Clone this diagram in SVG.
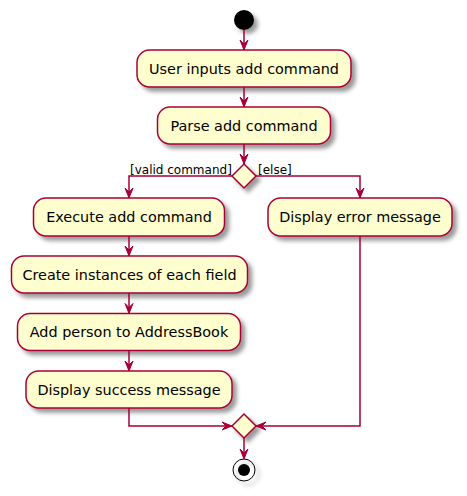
<svg xmlns="http://www.w3.org/2000/svg" width="467" height="496" viewBox="0 0 467 496">
<defs>
<filter id="sh" x="-1" y="-1" width="300%" height="300%">
<feGaussianBlur in="SourceAlpha" stdDeviation="2" result="b"/>
<feColorMatrix in="b" type="matrix" values="0 0 0 0 0 0 0 0 0 0 0 0 0 0 0 0 0 0 .4 0" result="b2"/>
<feOffset in="b2" dx="4" dy="4" result="b3"/>
<feBlend in="SourceGraphic" in2="b3" mode="normal"/>
</filter>
</defs>
<style>
.act{fill:#FEFECE;stroke:#A80036;stroke-width:1.5;filter:url(#sh)}
.t{font-family:"DejaVu Sans",sans-serif;font-size:14.4px;fill:#000;text-anchor:middle}
.l{font-family:"DejaVu Sans",sans-serif;font-size:12px;fill:#000}
.ln{fill:none;stroke:#A80036;stroke-width:1.5}
.ah{fill:#A80036;stroke:#A80036;stroke-width:1}
</style>
<rect width="467" height="496" fill="#FFFFFF"/>
<g id="start"><circle cx="244" cy="20" r="10" fill="#000" filter="url(#sh)"/></g>
<g id="n1"><rect class="act" x="137" y="50" width="214" height="37" rx="12.5"/><text class="t" x="244" y="73.5">User inputs add command</text></g>
<g id="n2"><rect class="act" x="157.5" y="107" width="173" height="37" rx="12.5"/><text class="t" x="244" y="130.5">Parse add command</text></g>
<g id="d1"><polygon class="act" points="244,164 256,176 244,188 232,176"/></g>
<g id="n3"><rect class="act" x="33.5" y="198" width="191" height="38" rx="12.5"/><text class="t" x="129" y="222">Execute add command</text></g>
<g id="n4"><rect class="act" x="268" y="198" width="184" height="38" rx="12.5"/><text class="t" x="360" y="222">Display error message</text></g>
<g id="n5"><rect class="act" x="11.5" y="256" width="236" height="37" rx="12.5"/><text class="t" x="129.5" y="279.5">Create instances of each field</text></g>
<g id="n6"><rect class="act" x="17.5" y="313.5" width="223" height="37" rx="12.5"/><text class="t" x="129" y="337">Add person to AddressBook</text></g>
<g id="n7"><rect class="act" x="26" y="371" width="206" height="37" rx="12.5"/><text class="t" x="129" y="394.5">Display success message</text></g>
<g id="d2"><polygon class="act" points="244,414 256,426 244,438 232,426"/></g>
<g id="end"><circle cx="244" cy="470" r="11" fill="none" stroke="#000" stroke-width="1" filter="url(#sh)"/><circle cx="244" cy="470" r="6" fill="#000"/></g>
<g id="connectors">
<line class="ln" x1="244" y1="30" x2="244" y2="50"/><polygon class="ah" points="240,40 244,50 248,40 244,44"/>
<line class="ln" x1="244" y1="87" x2="244" y2="107"/><polygon class="ah" points="240,97 244,107 248,97 244,101"/>
<line class="ln" x1="244" y1="144" x2="244" y2="164"/><polygon class="ah" points="240,154 244,164 248,154 244,158"/>
<polyline class="ln" points="232,176 129,176 129,198"/><polygon class="ah" points="125,188 129,198 133,188 129,192"/>
<polyline class="ln" points="256,176 360,176 360,198"/><polygon class="ah" points="356,188 360,198 364,188 360,192"/>
<text class="l" x="130" y="174">[valid command]</text>
<text class="l" x="258" y="174">[else]</text>
<line class="ln" x1="129" y1="236" x2="129" y2="256"/><polygon class="ah" points="125,246 129,256 133,246 129,250"/>
<line class="ln" x1="129" y1="293" x2="129" y2="313.5"/><polygon class="ah" points="125,303.5 129,313.5 133,303.5 129,307.5"/>
<line class="ln" x1="129" y1="350.5" x2="129" y2="371"/><polygon class="ah" points="125,361 129,371 133,361 129,365"/>
<polyline class="ln" points="129,408 129,426 232,426"/><polygon class="ah" points="222,422 232,426 222,430 226,426"/>
<polyline class="ln" points="360,236 360,426 256,426"/><polygon class="ah" points="266,422 256,426 266,430 262,426"/>
<line class="ln" x1="244" y1="438" x2="244" y2="459"/><polygon class="ah" points="240,449 244,459 248,449 244,453"/>
</g>
</svg>
